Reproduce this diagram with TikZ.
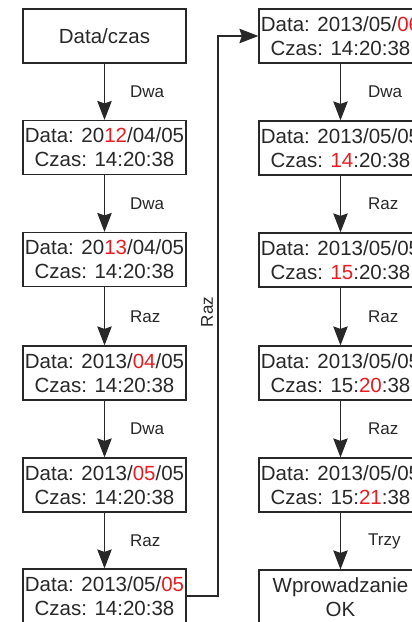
\documentclass[tikz,border=0pt]{standalone}
\usepackage{fontspec}
\setmainfont{Liberation Sans}
\usetikzlibrary{arrows.meta}
\definecolor{ink}{RGB}{40,40,40}
\definecolor{hl}{RGB}{230,30,35}
\newcommand{\hr}[1]{\textcolor{hl}{#1}}
\tikzset{
  box/.style={draw=ink, line width=1.2pt, rectangle, minimum width=163pt, minimum height=54pt,
    inner sep=1pt, align=center, text=ink, font=\fontsize{20.5}{24}\selectfont},
  arr/.style={draw=ink, line width=1.2pt, -{Stealth[length=19pt,width=14.5pt,inset=2.5pt]}},
  lbl/.style={text=ink, font=\fontsize{17}{19}\selectfont, inner sep=0pt, anchor=west},
}
\begin{document}
\begin{tikzpicture}[x=1pt,y=-1pt]
\clip (0,0) rectangle (412,622);
\fill[white] (0,0) rectangle (412,622);
% left column
\node[box] (L1) at (104.5,36) {Data/czas};
\node[box] (L2) at (104.5,147.5) {Data: 20\hr{12}/04/05\\Czas: 14:20:38};
\node[box] (L3) at (104.5,259.5) {Data: 20\hr{13}/04/05\\Czas: 14:20:38};
\node[box] (L4) at (104.5,373) {Data: 2013/\hr{04}/05\\Czas: 14:20:38};
\node[box] (L5) at (104.5,485) {Data: 2013/\hr{05}/05\\Czas: 14:20:38};
\node[box] (L6) at (104.5,596) {Data: 2013/05/\hr{05}\\Czas: 14:20:38};
% right column
\node[box] (R1) at (340.5,36) {Data: 2013/05/\hr{06}\\Czas: 14:20:38};
\node[box] (R2) at (340.5,148) {Data: 2013/05/05\\Czas: \hr{14}:20:38};
\node[box] (R3) at (340.5,260) {Data: 2013/05/05\\Czas: \hr{15}:20:38};
\node[box] (R4) at (340.5,373) {Data: 2013/05/05\\Czas: 15:\hr{20}:38};
\node[box] (R5) at (340.5,485) {Data: 2013/05/05\\Czas: 15:\hr{21}:38};
\node[box] (R6) at (340.5,597) {Wprowadzanie\\OK};
% left arrows
\draw[arr] (L1) -- node[lbl, xshift=25pt] {Dwa} (L2);
\draw[arr] (L2) -- node[lbl, xshift=25pt] {Dwa} (L3);
\draw[arr] (L3) -- node[lbl, xshift=25pt] {Raz} (L4);
\draw[arr] (L4) -- node[lbl, xshift=25pt] {Dwa} (L5);
\draw[arr] (L5) -- node[lbl, xshift=25pt] {Raz} (L6);
% right arrows
\draw[arr] (R1) -- node[lbl, xshift=27pt] {Dwa} (R2);
\draw[arr] (R2) -- node[lbl, xshift=27pt] {Raz} (R3);
\draw[arr] (R3) -- node[lbl, xshift=27pt] {Raz} (R4);
\draw[arr] (R4) -- node[lbl, xshift=27pt] {Raz} (R5);
\draw[arr] (R5) -- node[lbl, xshift=27pt] {Trzy} (R6);
% loop
\coordinate (C) at (218,596);
\draw[arr] (L6.east) -- (C) |- (R1.west);
\node[text=ink, font=\fontsize{17}{19}\selectfont, rotate=90, inner sep=0pt] (RL) at (207,312) {Raz};
\end{tikzpicture}
\end{document}
